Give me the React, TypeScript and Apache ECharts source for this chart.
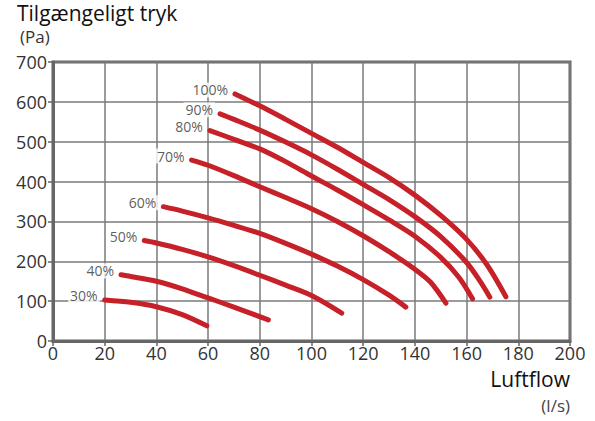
import React, { useEffect, useRef } from "react";
import * as echarts from "echarts";

const xTicks = [0, 20, 40, 60, 80, 100, 120, 140, 160, 180, 200];
const yTicks = [0, 100, 200, 300, 400, 500, 600, 700];

const speedLabels = ["30%", "40%", "50%", "60%", "70%", "80%", "90%", "100%"];

const curve30: number[][] = [[20, 103], [30, 97], [40, 86], [50, 66], [59.5, 38]];
const curve40: number[][] = [[26.3, 166], [30, 162], [40, 150], [50, 131], [60, 108], [70, 85], [83.3, 53]];
const curve50: number[][] = [[35.3, 252], [40, 246], [50, 230], [60, 211], [70, 189], [80, 165], [90, 140], [100, 114], [111.7, 70]];
const curve60: number[][] = [[42.7, 337], [50, 326], [60, 309], [70, 290], [80, 270], [90, 245], [100, 218], [110, 188], [120, 154], [130, 115], [136.5, 85]];
const curve70: number[][] = [[53.6, 454], [60, 441], [70, 415], [80, 387], [90, 360], [100, 332], [110, 300], [120, 264], [130, 224], [140, 180], [146, 148], [152, 95]];
const curve80: number[][] = [[60.7, 528], [70, 506], [80, 482], [90, 450], [100, 414], [110, 379], [120, 342], [130, 304], [140, 263], [150, 210], [157, 160], [162.3, 106]];
const curve90: number[][] = [[64.6, 570], [70, 556], [80, 529], [90, 499], [100, 467], [110, 431], [120, 393], [130, 355], [140, 312], [150, 262], [160, 197], [165, 152], [169, 110]];
const curve100: number[][] = [[70.4, 620], [80, 590], [90, 556], [100, 521], [110, 486], [120, 448], [130, 410], [140, 366], [150, 315], [160, 255], [168, 190], [175.2, 111]];

const curves = [curve30, curve40, curve50, curve60, curve70, curve80, curve90, curve100];

const FONT = "Open Sans";
const RED = "#c62028";
const TEXT = "#333333";

export default function App() {
  const ref = useRef<HTMLDivElement>(null);
  useEffect(() => {
    if (!ref.current) return;
    const chart = echarts.init(ref.current, undefined, { renderer: "svg" });
    const lineSeries = curves.map((c) => ({
      type: "line",
      smooth: 0.3,
      symbol: "none",
      showSymbol: false,
      lineStyle: { color: RED, width: 5, cap: "round", join: "round" },
      data: c,
      z: 3,
    }));
    const labelSeries = {
      type: "scatter",
      symbolSize: 0,
      silent: true,
      z: 4,
      data: curves.map((c, i) => ({ value: c[0], name: speedLabels[i] })),
      label: {
        show: true,
        formatter: (p: any) => p.name,
        position: "left",
        distance: 5,
        offset: [0, -4],
        color: TEXT,
        fontSize: 14,
        lineHeight: 15,
        fontFamily: FONT,
        backgroundColor: "#ffffff",
        padding: [0, 2, 0, 2],
      },
    };
    chart.setOption({
      animation: false,
      grid: {
        left: 53,
        right: 25,
        top: 62,
        bottom: 80,
        show: true,
        borderColor: "#666666",
        borderWidth: 3,
      },
      xAxis: {
        type: "value",
        min: 0,
        max: 200,
        interval: 20,
        axisLine: { show: true, lineStyle: { color: "#666666", width: 3 } },
        axisTick: { show: true, length: 5, lineStyle: { color: "#666666", width: 1.5 } },
        splitLine: { show: true, lineStyle: { color: "#7a7a7a", width: 1.5 } },
        axisLabel: {
          color: TEXT,
          fontSize: 18,
          fontFamily: FONT,
          margin: 3,
          formatter: (v: number) => (xTicks.includes(v) ? String(v) : ""),
        },
      },
      yAxis: {
        type: "value",
        min: 0,
        max: 700,
        interval: 100,
        axisLine: { show: true, lineStyle: { color: "#666666", width: 3 } },
        axisTick: { show: true, length: 5, lineStyle: { color: "#666666", width: 1.5 } },
        splitLine: { show: true, lineStyle: { color: "#7a7a7a", width: 1.5 } },
        axisLabel: {
          color: TEXT,
          fontSize: 18,
          fontFamily: FONT,
          margin: 6,
          formatter: (v: number) => (yTicks.includes(v) ? String(v) : ""),
        },
      },
      graphic: [
        {
          type: "text",
          left: 17,
          top: 2,
          style: { text: "Tilgængeligt tryk", fontSize: 21, fontFamily: FONT, fill: "#111111" },
        },
        {
          type: "text",
          left: 20,
          top: 28,
          style: { text: "(Pa)", fontSize: 17, fontFamily: FONT, fill: TEXT },
        },
        {
          type: "text",
          right: 25,
          top: 368,
          style: { text: "Luftflow", fontSize: 21, fontFamily: FONT, fill: "#111111" },
        },
        {
          type: "text",
          right: 25,
          top: 397,
          style: { text: "(l/s)", fontSize: 17, fontFamily: FONT, fill: "#444444" },
        },
      ],
      series: [...lineSeries, labelSeries],
    });
    return () => chart.dispose();
  }, []);
  return (
    <div
      ref={ref}
      style={{ position: "fixed", left: 0, top: 0, width: 595, height: 421, background: "#ffffff" }}
    />
  );
}
